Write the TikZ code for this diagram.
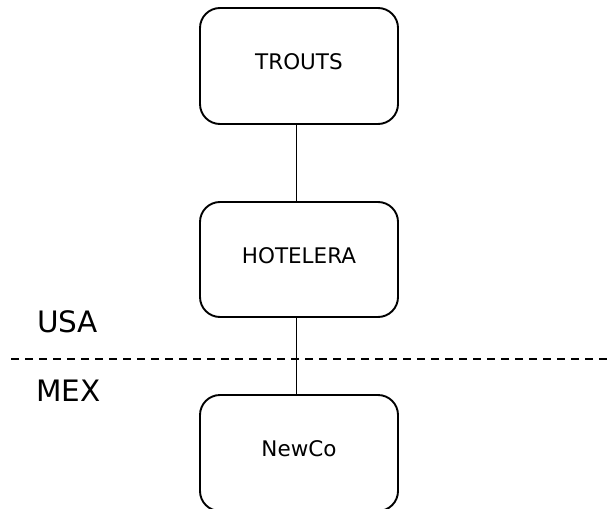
\documentclass[tikz,border=0pt]{standalone}
\usepackage{fontspec}
\setmainfont{DejaVu Sans}
\begin{document}
\begin{tikzpicture}[x=1pt,y=-1pt,
  entity/.style={draw=black, line width=1.9pt, rounded corners=20pt, minimum width=198pt,
    minimum height=116pt, font=\fontsize{21.5}{25}\selectfont, text height=15.7pt, text depth=8pt, inner sep=0pt},
  region/.style={anchor=base west, inner sep=0pt, font=\fontsize{29.5}{34}\selectfont},
  link/.style={line width=1.9pt},
  border/.style={line width=1.9pt, dash pattern=on 8pt off 6pt}]
  \useasboundingbox (0,0) rectangle (612,508);
  \clip (0,0) rectangle (612,508);
  \node[entity] (trouts) at (299,66) {TROUTS};
  \node[entity, minimum height=115pt] (hotelera) at (299,259.5) {HOTELERA};
  \node[entity] (newco) at (299,453) {NewCo};
  \draw[link] ([xshift=-2.5pt]trouts.south) -- ([xshift=-2.5pt]hotelera.north);
  \draw[link] ([xshift=-2.5pt]hotelera.south) -- ([xshift=-2.5pt]newco.north);
  \coordinate (bl) at (11,359);
  \coordinate (br) at (608,359);
  \draw[border] (bl) -- (br);
  \node[region] (usa) at (36.8,332) {USA};
  \node[region] (mex) at (36.3,401) {MEX};
\end{tikzpicture}
\end{document}
